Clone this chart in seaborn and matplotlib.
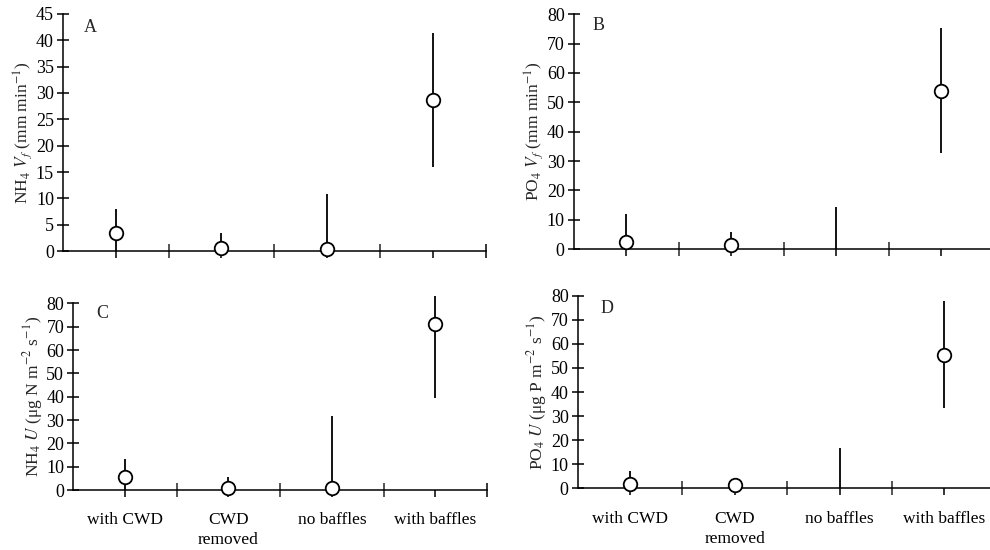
import matplotlib
matplotlib.use("Agg")
import matplotlib.pyplot as plt
import numpy as np
import pandas as pd
import seaborn as sns
from matplotlib.ticker import FixedLocator

categories = ['with CWD', 'CWD\nremoved', 'no baffles', 'with baffles']

# panel A: NH4 Vf (mm min-1)
nh4_vf = [3.4, 0.5, 0.4, 28.6]
nh4_vf_lo = [0, 0, 0, 16.0]
nh4_vf_hi = [8.0, 3.4, 10.9, 41.3]

# panel B: PO4 Vf (mm min-1) -- no point shown for "no baffles"
po4_vf = [2.6, 1.4, np.nan, 54.0]
po4_vf_lo = [0, 0, 0, 32.6]
po4_vf_hi = [11.8, 5.7, 14.4, 75.4]

# panel C: NH4 U (ug N m-2 s-1)
nh4_u = [5.7, 0.7, 0.7, 71.1]
nh4_u_lo = [0, 0, 0, 39.6]
nh4_u_hi = [13.3, 5.7, 31.7, 83.3]

# panel D: PO4 U (ug P m-2 s-1)
po4_u = [1.9, 1.5, np.nan, 55.6]
po4_u_lo = [0, 0, 0, 33.2]
po4_u_hi = [7.3, 1.5, 16.6, 77.7]

sns.set_theme(style='ticks')
plt.rcParams['font.family'] = ['Liberation Serif', 'DejaVu Serif']
plt.rcParams['mathtext.fontset'] = 'stix'
plt.rcParams['axes.linewidth'] = 1.1

fig = plt.figure(figsize=(9.9, 5.5), dpi=100)

panels = [
    # letter, values, lo, hi, ymax, ystep, ylabel, rect, letter pos, show labels
    ('A', nh4_vf, nh4_vf_lo, nh4_vf_hi, 45, 5,
     r'NH$_4$ $V_f$ (mm min$^{-1}$)', [0.0636, 0.5436, 0.427, 0.431], (0.064, 0.945), False),
    ('B', po4_vf, po4_vf_lo, po4_vf_hi, 80, 10,
     r'PO$_4$ $V_f$ (mm min$^{-1}$)', [0.5795, 0.547, 0.4245, 0.4273], (0.06, 0.953), False),
    ('C', nh4_u, nh4_u_lo, nh4_u_hi, 80, 10,
     r'NH$_4$ $U$ (μg N m$^{-2}$ s$^{-1}$)', [0.074, 0.109, 0.418, 0.3395], (0.069, 0.946), True),
    ('D', po4_u, po4_u_lo, po4_u_hi, 80, 10,
     r'PO$_4$ $U$ (μg P m$^{-2}$ s$^{-1}$)', [0.5835, 0.1122, 0.4232, 0.350], (0.069, 0.935), True),
]

for letter, vals, lo, hi, ymax, ystep, ylabel, rect, lpos, show in panels:
    ax = fig.add_axes(rect)
    pos = np.arange(len(categories))
    df = pd.DataFrame({'pos': pos, 'val': vals, 'lo': lo, 'hi': hi})

    ax.vlines(df['pos'], df['lo'], df['hi'], colors='black', lw=1.3,
              clip_on=False, zorder=2)
    sns.scatterplot(data=df.dropna(), x='pos', y='val', ax=ax, marker='o',
                    s=95, facecolor='white', edgecolor='black', linewidth=1.3,
                    clip_on=False, zorder=3, legend=False)

    ax.set_xlim(-0.5, len(categories) - 0.5)
    ax.set_ylim(0, ymax)
    ax.set_yticks(np.arange(0, ymax + 1, ystep))
    ax.set_xticks(pos)
    ax.xaxis.set_minor_locator(FixedLocator(pos[:-1] + 0.5))
    if show:
        ax.set_xticklabels(categories, fontsize=12.5, linespacing=1.35)
    else:
        ax.set_xticklabels([])
    ax.tick_params(axis='y', direction='inout', length=9, width=1.1,
                   labelsize=13, pad=2, colors='black')
    ax.tick_params(axis='x', which='major', direction='out', length=5,
                   width=1.1, pad=11, colors='black')
    ax.tick_params(axis='x', which='minor', direction='inout', length=10,
                   width=1.1)
    # right end tick of the x axis
    ax.plot([1], [0], transform=ax.transAxes, marker='|', ms=10, mew=1.1,
            color='black', clip_on=False)

    ax.set_xlabel('')
    ax.set_ylabel(ylabel, fontsize=12.5, labelpad=1)
    ax.text(lpos[0], lpos[1], letter, transform=ax.transAxes, fontsize=13,
            ha='center', va='center')
    sns.despine(ax=ax)
    for side in ['left', 'bottom']:
        ax.spines[side].set_color('black')
    ax.set_facecolor('white')

fig.savefig('out.png', dpi=100, facecolor='white')
